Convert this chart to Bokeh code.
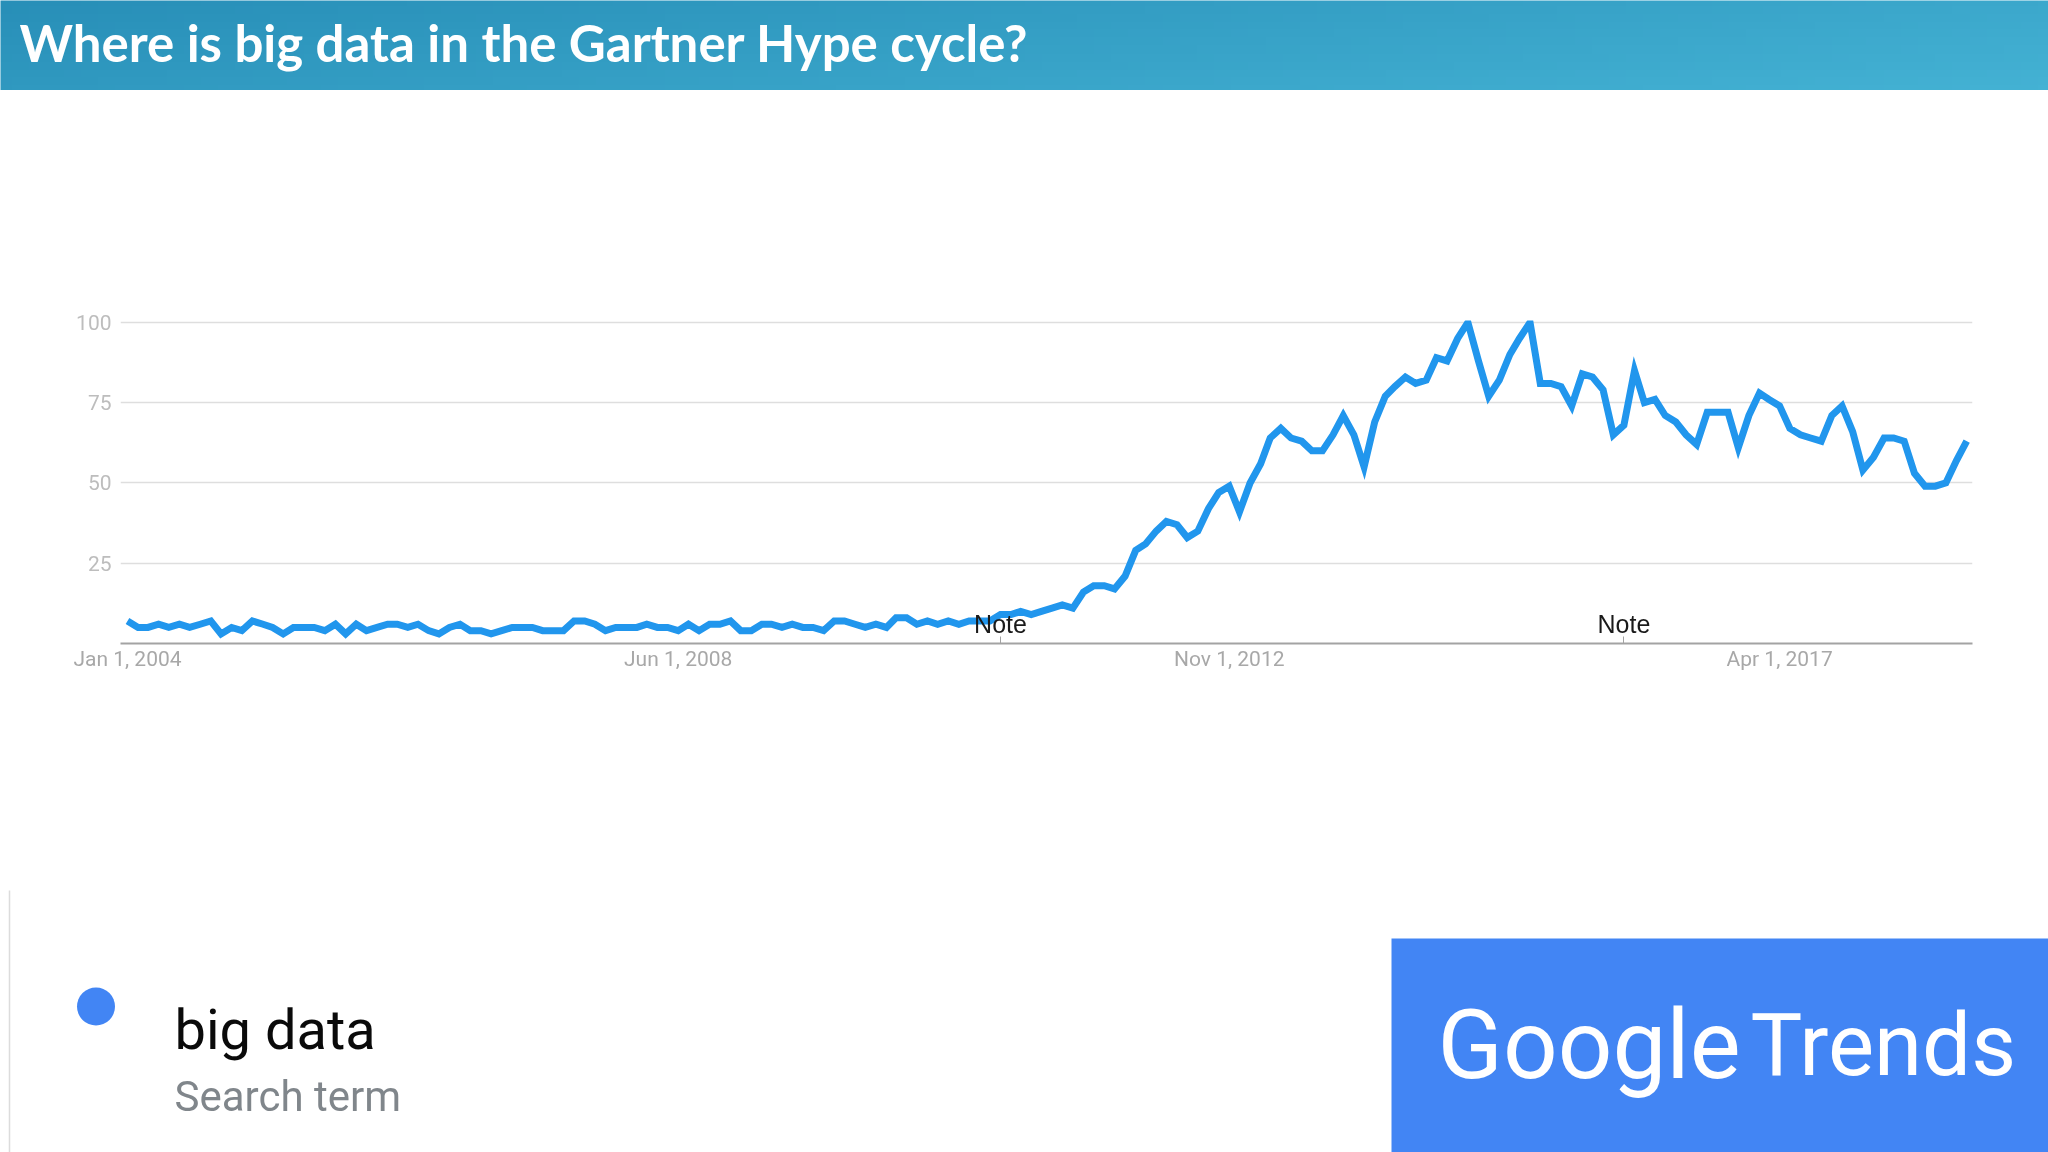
import numpy as np
import pandas as pd
from bokeh.embed import file_html
from bokeh.layouts import column, row
from bokeh.models import (FixedTicker, Label, Range1d, Spacer, DatetimeTickFormatter)
from bokeh.plotting import figure
from bokeh.resources import INLINE

TITLE = "Where is big data in the Gartner Hype cycle?"
START = "2004-01-01"
INTEREST = [
    7, 5, 5, 6, 5, 6, 5, 6, 7, 3, 5, 4, 7, 6, 5, 3, 5, 5, 5, 4, 6, 3, 6, 4, 5, 6, 6, 5, 6, 4,
    3, 5, 6, 4, 4, 3, 4, 5, 5, 5, 4, 4, 4, 7, 7, 6, 4, 5, 5, 5, 6, 5, 5, 4, 6, 4, 6, 6, 7, 4,
    4, 6, 6, 5, 6, 5, 5, 4, 7, 7, 6, 5, 6, 5, 8, 8, 6, 7, 6, 7, 6, 7, 7, 7, 9, 9, 10, 9, 10, 11,
    12, 11, 16, 18, 18, 17, 21, 29, 31, 35, 38, 37, 33, 35, 42, 47, 49, 41, 50, 56, 64, 67, 64, 63, 60, 60, 65, 71, 65, 55,
    69, 77, 80, 83, 81, 82, 89, 88, 95, 100, 88, 77, 82, 90, 95, 100, 81, 81, 80, 74, 84, 83, 79, 65, 68, 85, 75, 76, 71, 69,
    65, 62, 72, 72, 72, 61, 71, 78, 76, 74, 67, 65, 64, 63, 71, 74, 66, 54, 58, 64, 64, 63, 53, 49, 49, 50, 57, 63,
]
DATES = pd.date_range(START, periods=len(INTEREST), freq="MS")
X_TICKS = ["2004-01-01", "2008-06-01", "2012-11-01", "2017-04-01"]
Y_TICKS = [25, 50, 75, 100]
NOTE_DATES = ["2011-01-01", "2016-01-01"]
TERM = "big data"
TERM_KIND = "Search term"
BRAND = ["Google", "Trends"]


def ms(d):
    return pd.Timestamp(d).timestamp() * 1000


FONT = "Roboto"
HEADER_H, CHART_H, BOTTOM_H = 90, 790, 272
W = 2048

# header band with its gradient
header = figure(width=W, height=HEADER_H, x_range=(0.003, 0.997), y_range=(0.02, 0.98), toolbar_location=None,
                output_backend="svg", min_border=0, outline_line_color=None)
header.axis.visible = False
header.grid.visible = False
gh, gw = 12, 120
u, v = np.meshgrid(np.linspace(0, 1, gw), np.linspace(1, 0, gh))
t = 0.72 * u + 0.28 * v
c0, c1 = np.array([40, 143, 184]), np.array([68, 178, 212])
img = np.zeros((gh, gw), dtype=np.uint32)
view = img.view(dtype=np.uint8).reshape((gh, gw, 4))
for k in range(3):
    view[:, :, k] = (c0[k] + (c1[k] - c0[k]) * t).astype(np.uint8)
view[:, :, 3] = 255
header.image_rgba(image=[img], x=0, y=0, dw=1, dh=1)
header.add_layout(Label(x=19, y=HEADER_H - 42, x_units="screen", y_units="screen", text=TITLE,
                        text_font="Lato", text_font_style="bold", text_font_size="51px",
                        text_color="white", text_baseline="middle"))

# chart
x0 = ms(START) - 20.5 * 86400000
x1 = ms(START) + 5404 * 86400000
chart = figure(width=W, height=CHART_H, x_axis_type="datetime", x_range=Range1d(x0, x1),
               y_range=Range1d(0, 100.6), toolbar_location=None, output_backend="svg",
               min_border_left=120, min_border_right=76, min_border_top=230, min_border_bottom=237,
               outline_line_color=None)
chart.line(DATES, INTEREST, line_color="#2196ed", line_width=7, line_join="miter")

chart.xgrid.visible = False
chart.ygrid.grid_line_color = "#dedede"
chart.ygrid.grid_line_width = 1.6
chart.ygrid.ticker = FixedTicker(ticks=Y_TICKS)

chart.yaxis.ticker = FixedTicker(ticks=Y_TICKS)
chart.yaxis.axis_line_color = None
chart.yaxis.major_tick_line_color = None
chart.yaxis.minor_tick_line_color = None
chart.yaxis.major_label_text_color = "#bdbdbd"
chart.yaxis.major_label_text_font = FONT
chart.yaxis.major_label_text_font_size = "21px"
chart.yaxis.major_label_standoff = 3

chart.xaxis.ticker = FixedTicker(ticks=[ms(d) for d in X_TICKS],
                                 minor_ticks=[ms(d) for d in NOTE_DATES])
chart.xaxis.formatter = DatetimeTickFormatter(days="%b %-d, %Y", months="%b %-d, %Y", years="%b %-d, %Y",
                                              context=None)
chart.xaxis.axis_line_color = "#a3a3a3"
chart.xaxis.axis_line_width = 2
chart.xaxis.major_tick_line_color = None
chart.xaxis.minor_tick_line_color = "#a3a3a3"
chart.xaxis.minor_tick_in = 7
chart.xaxis.minor_tick_out = 0
chart.xaxis.major_label_text_color = "#a8a8a8"
chart.xaxis.major_label_text_font = FONT
chart.xaxis.major_label_text_font_size = "21px"
chart.xaxis.major_label_standoff = -3

for d in NOTE_DATES:
    chart.add_layout(Label(x=ms(d), y=6, text="Note", text_font="Liberation Sans", text_font_size="25px",
                           text_color="#1a1a1a", text_align="center", text_baseline="alphabetic"))

# legend block
left = figure(width=1391, height=BOTTOM_H, x_range=(0, 1391), y_range=(BOTTOM_H, 0), toolbar_location=None,
              output_backend="svg", min_border=0, outline_line_color=None)
left.axis.visible = False
left.grid.visible = False
left.scatter(x=[95.5], y=[126], size=38, marker="circle", fill_color="#4285f4", line_color=None)
left.segment(x0=[9], y0=[10], x1=[9], y1=[BOTTOM_H], line_color="#dcdcdc", line_width=1.5)
left.add_layout(Label(x=174, y=BOTTOM_H - 149, x_units="screen", y_units="screen", text=TERM,
                      text_font=FONT, text_font_size="56px", text_color="#0a0a0a", text_baseline="alphabetic"))
left.add_layout(Label(x=174, y=BOTTOM_H - 216, x_units="screen", y_units="screen", text=TERM_KIND,
                      text_font=FONT, text_font_size="42px", text_color="#80868b", text_baseline="alphabetic"))

# Google Trends panel
logo = figure(width=W - 1391, height=214, x_range=(0, 1), y_range=(0, 1), toolbar_location=None,
              output_backend="svg", min_border=0, outline_line_color=None,
              background_fill_color="#4285f4", border_fill_color="#4285f4")
logo.axis.visible = False
logo.grid.visible = False
logo.add_layout(Label(x=46, y=214 - 106, x_units="screen", y_units="screen", text=BRAND[0],
                      text_font="Roboto", text_font_size="96px", text_color="white", text_baseline="alphabetic"))
logo.add_layout(Label(x=359, y=214 - 106, x_units="screen", y_units="screen", text=BRAND[1],
                      text_font="Roboto", text_font_size="87px", text_color="white", text_baseline="alphabetic"))

page = column(row(header), row(chart), row(left, column(Spacer(height=58), logo, spacing=0), spacing=0), spacing=0,
              styles={"position": "fixed", "left": "0", "top": "0"})
open("out.html", "w").write(file_html(page, INLINE))
